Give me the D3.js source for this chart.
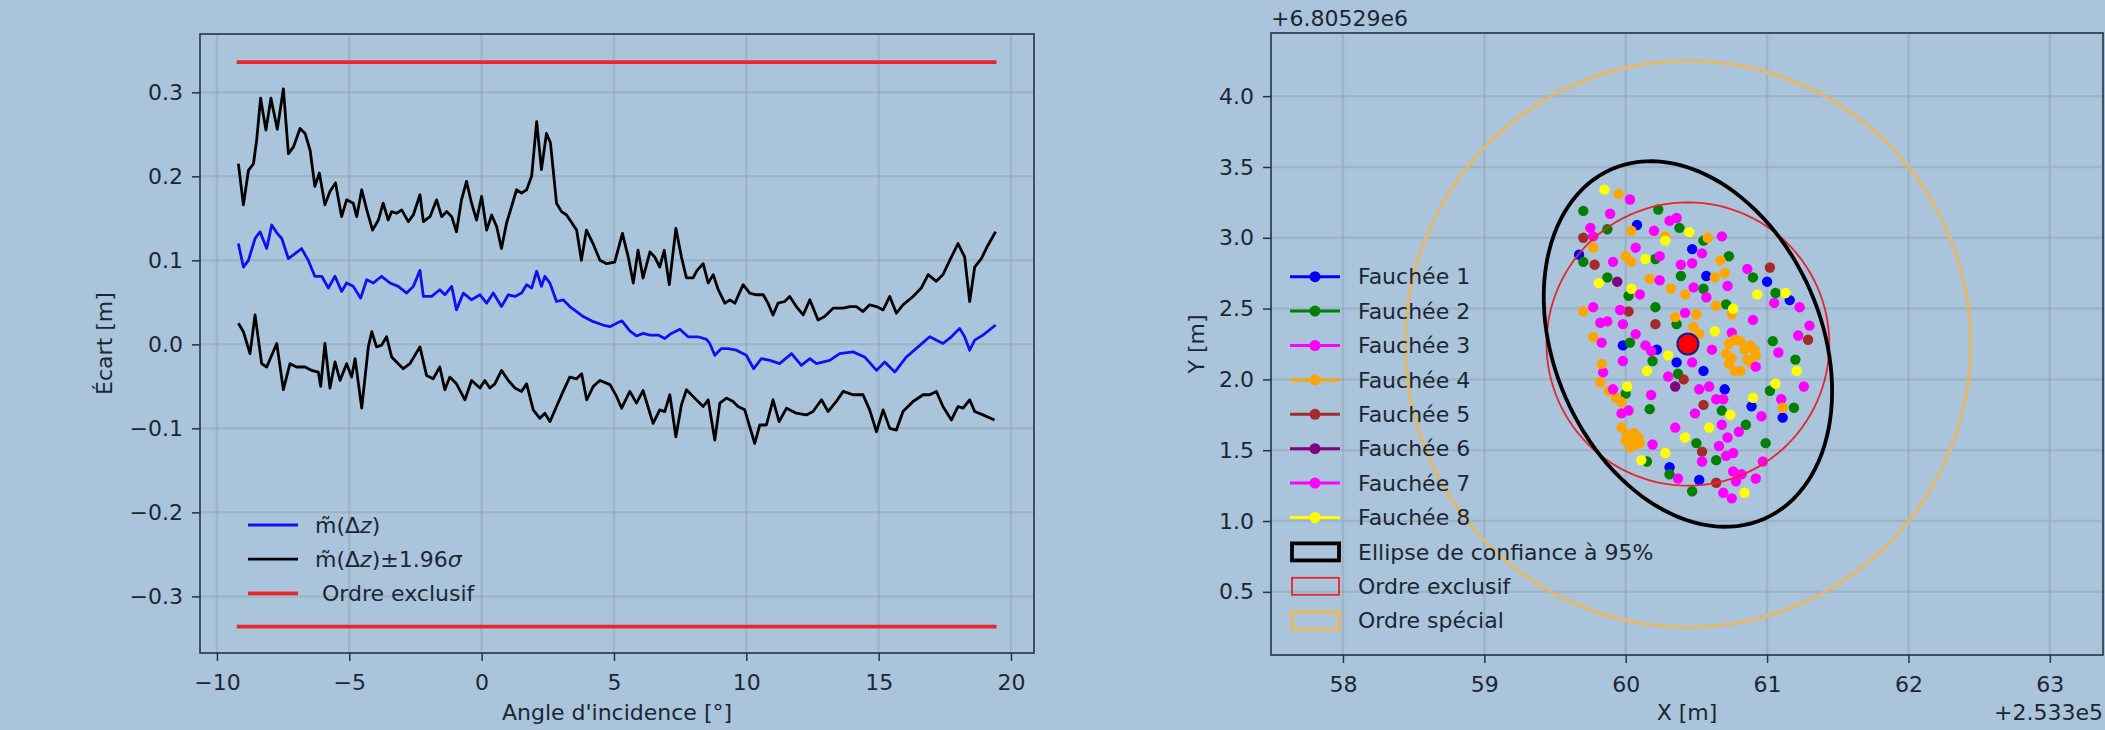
<!DOCTYPE html>
<html>
<head>
<meta charset="utf-8">
<script src="https://cdn.jsdelivr.net/npm/d3@7"></script>
<style>
  body { margin: 0; background: #aac4db; }
  svg { display: block; }
</style>
</head>
<body>
<svg id="chart"></svg>
<script>
// ---- données : écart en fonction de l'angle d'incidence ----
const meanPts = [[-9.19,0.120],[-9.0,0.092],[-8.81,0.100],[-8.56,0.126],[-8.37,0.134],[-8.12,0.114],[-7.93,0.142],[-7.72,0.132],[-7.55,0.126],[-7.3,0.102],[-7.05,0.108],[-6.8,0.114],[-6.55,0.100],[-6.3,0.081],[-6.04,0.081],[-5.79,0.067],[-5.54,0.081],[-5.29,0.063],[-5.1,0.073],[-4.85,0.069],[-4.57,0.055],[-4.34,0.077],[-4.09,0.073],[-3.78,0.081],[-3.46,0.073],[-3.15,0.069],[-2.83,0.061],[-2.58,0.069],[-2.33,0.088],[-2.2,0.057],[-1.89,0.057],[-1.58,0.065],[-1.39,0.059],[-1.13,0.069],[-0.95,0.041],[-0.69,0.061],[-0.38,0.053],[-0.06,0.059],[0.19,0.049],[0.44,0.061],[0.75,0.045],[1.01,0.059],[1.26,0.057],[1.51,0.061],[1.7,0.071],[1.89,0.067],[2.08,0.087],[2.26,0.069],[2.39,0.081],[2.58,0.073],[2.83,0.051],[3.08,0.053],[3.33,0.045],[3.59,0.039],[3.84,0.033],[4.22,0.027],[4.59,0.023],[4.85,0.021],[5.1,0.025],[5.3,0.028],[5.6,0.016],[5.85,0.010],[6.1,0.013],[6.36,0.011],[6.67,0.011],[6.92,0.007],[7.17,0.013],[7.49,0.018],[7.8,0.009],[8.18,0.009],[8.5,0.006],[8.62,0.001],[8.81,-0.013],[9.06,-0.005],[9.31,-0.005],[9.63,-0.007],[10.0,-0.013],[10.28,-0.029],[10.57,-0.017],[10.89,-0.019],[11.26,-0.023],[11.71,-0.011],[12.08,-0.025],[12.4,-0.017],[12.65,-0.023],[13.15,-0.019],[13.53,-0.011],[14.03,-0.009],[14.47,-0.015],[14.92,-0.031],[15.23,-0.021],[15.61,-0.033],[16.05,-0.015],[16.49,-0.003],[16.93,0.009],[17.43,0.001],[17.75,0.009],[18.06,0.019],[18.25,0.009],[18.44,-0.007],[18.63,0.005],[18.94,0.011],[19.42,0.023]];

const upperPts = [[-9.19,0.215],[-9.0,0.166],[-8.81,0.207],[-8.62,0.215],[-8.5,0.243],[-8.35,0.293],[-8.15,0.255],[-7.96,0.293],[-7.72,0.256],[-7.49,0.304],[-7.3,0.227],[-7.11,0.235],[-6.86,0.257],[-6.67,0.251],[-6.48,0.231],[-6.3,0.188],[-6.13,0.204],[-5.92,0.166],[-5.73,0.182],[-5.52,0.192],[-5.29,0.152],[-5.1,0.172],[-4.85,0.168],[-4.72,0.152],[-4.53,0.184],[-4.34,0.160],[-4.12,0.136],[-3.9,0.148],[-3.72,0.168],[-3.53,0.148],[-3.4,0.158],[-3.21,0.156],[-3.02,0.160],[-2.77,0.146],[-2.58,0.154],[-2.33,0.178],[-2.2,0.146],[-1.95,0.152],[-1.7,0.172],[-1.51,0.152],[-1.32,0.158],[-1.13,0.152],[-0.95,0.134],[-0.76,0.172],[-0.57,0.194],[-0.38,0.168],[-0.19,0.148],[0.0,0.176],[0.19,0.136],[0.38,0.154],[0.57,0.140],[0.75,0.114],[0.94,0.144],[1.13,0.164],[1.32,0.184],[1.51,0.180],[1.7,0.184],[1.89,0.200],[2.08,0.265],[2.26,0.208],[2.45,0.251],[2.6,0.240],[2.83,0.168],[3.02,0.158],[3.21,0.154],[3.59,0.136],[3.77,0.100],[3.96,0.136],[4.21,0.120],[4.47,0.100],[4.72,0.096],[5.03,0.098],[5.32,0.132],[5.54,0.104],[5.73,0.073],[5.91,0.112],[6.1,0.079],[6.36,0.110],[6.54,0.104],[6.73,0.092],[6.9,0.112],[7.09,0.071],[7.34,0.138],[7.55,0.104],[7.74,0.079],[7.99,0.079],[8.14,0.088],[8.37,0.096],[8.56,0.073],[8.75,0.083],[8.94,0.065],[9.19,0.049],[9.38,0.053],[9.57,0.049],[9.88,0.071],[10.13,0.061],[10.38,0.059],[10.64,0.059],[10.82,0.049],[11.01,0.035],[11.2,0.049],[11.45,0.051],[11.64,0.057],[11.89,0.045],[12.15,0.035],[12.4,0.053],[12.71,0.029],[12.96,0.033],[13.28,0.043],[13.66,0.043],[13.91,0.045],[14.16,0.045],[14.41,0.039],[14.66,0.047],[14.92,0.045],[15.17,0.041],[15.42,0.057],[15.67,0.037],[15.92,0.047],[16.3,0.057],[16.61,0.067],[16.87,0.083],[17.18,0.075],[17.43,0.083],[17.75,0.104],[18.0,0.120],[18.25,0.104],[18.44,0.051],[18.63,0.092],[18.88,0.102],[19.13,0.118],[19.42,0.134]];

const lowerPts = [[-9.19,0.025],[-9.0,0.015],[-8.75,-0.011],[-8.56,0.035],[-8.31,-0.023],[-8.12,-0.027],[-7.74,0.001],[-7.49,-0.054],[-7.24,-0.023],[-6.99,-0.027],[-6.67,-0.027],[-6.42,-0.031],[-6.17,-0.033],[-6.08,-0.050],[-5.92,0.001],[-5.73,-0.052],[-5.54,-0.021],[-5.35,-0.043],[-5.1,-0.023],[-4.91,-0.039],[-4.78,-0.017],[-4.53,-0.076],[-4.28,-0.003],[-4.15,0.015],[-3.97,-0.003],[-3.78,-0.001],[-3.59,0.009],[-3.4,-0.015],[-3.15,-0.023],[-2.96,-0.029],[-2.71,-0.023],[-2.33,-0.003],[-2.08,-0.037],[-1.83,-0.041],[-1.58,-0.027],[-1.39,-0.054],[-1.2,-0.039],[-0.95,-0.047],[-0.63,-0.066],[-0.38,-0.043],[-0.06,-0.052],[0.12,-0.043],[0.31,-0.052],[0.5,-0.047],[0.75,-0.031],[1.01,-0.043],[1.26,-0.052],[1.51,-0.056],[1.7,-0.047],[1.95,-0.078],[2.2,-0.088],[2.39,-0.082],[2.58,-0.092],[2.83,-0.074],[3.08,-0.056],[3.33,-0.039],[3.59,-0.041],[3.78,-0.035],[3.97,-0.066],[4.22,-0.050],[4.47,-0.043],[4.85,-0.048],[5.1,-0.062],[5.29,-0.076],[5.6,-0.056],[5.85,-0.070],[6.1,-0.055],[6.36,-0.082],[6.48,-0.094],[6.73,-0.078],[6.92,-0.080],[7.11,-0.060],[7.34,-0.110],[7.55,-0.072],[7.74,-0.054],[8.05,-0.064],[8.37,-0.074],[8.56,-0.066],[8.81,-0.114],[9.0,-0.070],[9.25,-0.064],[9.5,-0.068],[9.69,-0.074],[9.94,-0.078],[10.32,-0.118],[10.51,-0.096],[10.76,-0.096],[11.01,-0.066],[11.24,-0.092],[11.52,-0.076],[11.89,-0.082],[12.27,-0.084],[12.52,-0.080],[12.84,-0.066],[13.09,-0.080],[13.4,-0.068],[13.66,-0.056],[14.03,-0.060],[14.41,-0.060],[14.66,-0.078],[14.92,-0.104],[15.17,-0.078],[15.42,-0.100],[15.67,-0.102],[15.92,-0.080],[16.3,-0.068],[16.68,-0.060],[16.93,-0.060],[17.18,-0.056],[17.43,-0.074],[17.75,-0.090],[18.0,-0.074],[18.19,-0.076],[18.44,-0.066],[18.63,-0.080],[18.94,-0.084],[19.38,-0.090]];

const ordreExclusifX = [-9.25, 19.45];
const ordreExclusifEcart = 0.336;
const xTicksLeft = [-10, -5, 0, 5, 10, 15, 20];
const yTicksLeft = [-0.3, -0.2, -0.1, 0.0, 0.1, 0.2, 0.3];

// ---- données : positions par fauchée (X, Y relatifs aux offsets) ----
const fauchee1 = [[60.08,3.09],[59.67,2.88],[60.47,2.92],[60.57,2.73],[61.00,2.69],[61.16,2.56],[59.98,2.24],[60.22,2.21],[60.36,2.12],[60.55,2.06],[60.70,1.93],[60.89,1.81],[61.11,1.73],[60.31,1.38],[60.52,1.29]];
const fauchee2 = [[59.70,3.19],[60.23,3.20],[59.87,3.06],[60.38,3.07],[60.55,2.98],[59.70,2.83],[60.21,2.85],[60.73,2.87],[60.90,2.72],[60.39,2.73],[59.87,2.72],[60.55,2.64],[60.02,2.59],[61.06,2.61],[60.71,2.53],[60.21,2.51],[60.36,2.39],[60.03,2.26],[61.04,2.27],[60.19,2.13],[61.20,2.14],[60.37,2.04],[60.00,1.90],[61.02,1.92],[61.19,1.80],[60.68,1.78],[60.17,1.79],[60.85,1.68],[60.50,1.55],[60.99,1.55],[60.15,1.42],[60.64,1.43],[60.31,1.33],[60.47,1.21]];
const fauchee3 = [[60.03,3.27],[60.31,3.12],[59.75,3.07],[59.77,3.01],[60.07,2.93],[59.91,2.83],[60.39,2.81],[60.86,2.78],[60.48,2.65],[60.10,2.60],[61.05,2.54],[59.77,2.51],[60.42,2.47],[59.82,2.40],[59.98,2.39],[60.75,2.33],[61.22,2.31],[60.14,2.24],[60.61,2.21],[59.98,2.13],[59.84,2.05],[60.30,2.02],[60.59,1.95],[61.26,1.95],[60.64,1.86],[61.10,1.86],[60.02,1.78],[60.96,1.74],[60.68,1.68],[60.72,1.59],[60.66,1.53],[60.71,1.46],[60.97,1.42],[60.76,1.35],[60.78,1.28],[60.69,1.20]];
const fauchee4 = [[59.95,3.31],[60.04,3.05],[60.28,3.01],[60.58,3.00],[59.77,2.93],[60.00,2.87],[60.04,2.83],[60.67,2.84],[60.70,2.75],[60.63,2.72],[60.17,2.71],[60.32,2.64],[60.42,2.60],[60.64,2.52],[60.75,2.46],[59.70,2.48],[60.50,2.46],[60.35,2.44],[60.48,2.37],[60.52,2.32],[59.77,2.30],[60.73,2.25],[60.81,2.27],[60.88,2.24],[60.92,2.17],[60.89,2.11],[60.81,2.06],[60.73,2.11],[60.71,2.18],[60.84,2.21],[60.77,2.06],[60.77,2.28],[60.86,2.14],[60.75,2.15],[60.91,2.21],[59.83,2.11],[59.82,1.98],[59.88,1.92],[59.93,1.87],[59.97,1.84],[61.11,1.80],[59.97,1.66],[60.01,1.61],[60.04,1.58],[60.07,1.54],[60.03,1.52],[60.09,1.59],[60.10,1.55],[60.06,1.62],[60.00,1.57]];
const fauchee5 = [[59.70,3.00],[59.78,2.81],[61.02,2.79],[60.02,2.48],[60.21,2.39],[61.29,2.28],[60.41,2.00],[60.55,1.82],[60.54,1.49],[60.64,1.27]];
const fauchee6 = [[59.94,2.69],[60.35,1.95]];
const fauchee7 = [[59.89,3.17],[60.36,3.14],[60.20,3.05],[60.68,3.01],[60.54,2.89],[60.24,2.87],[60.47,2.82],[60.24,2.70],[60.72,2.66],[60.57,2.58],[61.23,2.51],[59.96,2.49],[60.90,2.42],[59.87,2.41],[60.07,2.32],[61.30,2.38],[59.83,2.26],[60.18,2.20],[61.08,2.19],[60.47,2.12],[60.92,2.09],[60.52,1.93],[59.91,1.93],[60.18,1.89],[60.69,1.86],[59.97,1.76],[60.49,1.76],[60.35,1.66],[60.80,1.63],[60.19,1.54],[60.76,1.48],[60.54,1.42],[60.37,1.30],[60.82,1.33],[60.92,1.30],[60.75,1.16]];
const fauchee8 = [[59.85,3.34],[60.45,3.04],[60.28,2.98],[60.14,2.85],[59.81,2.68],[60.04,2.64],[61.13,2.61],[60.93,2.60],[60.76,2.50],[60.63,2.34],[60.30,2.17],[60.15,2.06],[61.21,2.06],[60.01,1.95],[61.06,1.97],[60.90,1.87],[60.74,1.75],[60.59,1.66],[60.42,1.59],[60.28,1.48],[60.11,1.43],[60.84,1.20]];

const faucheeNames = ['Fauchée 1', 'Fauchée 2', 'Fauchée 3', 'Fauchée 4', 'Fauchée 5', 'Fauchée 6', 'Fauchée 7', 'Fauchée 8'];
const centre = [60.44, 2.25];
const ellipse95 = { a: 1.347, b: 0.944, angleDeg: -66.3 };  // demi-axes en m
const rayonExclusif = 1.0;
const rayonSpecial = 2.0;
const xTicksRight = [58, 59, 60, 61, 62, 63];
const yTicksRight = [0.5, 1.0, 1.5, 2.0, 2.5, 3.0, 3.5, 4.0];
const offsetX = '+2.533e5';
const offsetY = '+6.80529e6';

// ---- mise en page ----
const W = 2105, H = 730;
const FONT = '"DejaVu Sans", sans-serif';
const ink = '#1c2733';
const spine = '#263442';
const gridColor = 'rgba(140,158,172,0.38)';
const faucheeColors = ['blue', 'green', 'magenta', 'orange', 'brown', 'purple', 'magenta', 'yellow'];

const svg = d3.select('#chart').attr('width', W).attr('height', H)
  .style('font-family', FONT);

svg.append('rect').attr('width', W).attr('height', H).attr('fill', '#aac4db');

function styleAxis(g) {
  g.select('.domain').remove();
  g.selectAll('.tick line').attr('stroke', spine).attr('stroke-width', 1.5);
  g.selectAll('.tick text').attr('fill', ink).style('font-size', '22px').style('font-family', FONT);
}

function drawFrame(box) {
  svg.append('rect')
    .attr('x', box.left).attr('y', box.top)
    .attr('width', box.right - box.left).attr('height', box.bottom - box.top)
    .attr('fill', 'none').attr('stroke', spine).attr('stroke-width', 1.6);
}

// ================= graphique de gauche =================
const L = { left: 200, right: 1034, top: 34, bottom: 653 };
const xL = d3.scaleLinear().domain([-10.64, 20.87]).range([L.left, L.right]);
const yL = d3.scaleLinear().domain([-0.3674, 0.3694]).range([L.bottom, L.top]);

const gridL = svg.append('g');
gridL.selectAll('.gx').data(xTicksLeft).enter().append('line')
  .attr('x1', d => xL(d)).attr('x2', d => xL(d))
  .attr('y1', L.top).attr('y2', L.bottom)
  .attr('stroke', gridColor).attr('stroke-width', 2.5);
gridL.selectAll('.gy').data(yTicksLeft).enter().append('line')
  .attr('y1', d => yL(d)).attr('y2', d => yL(d))
  .attr('x1', L.left).attr('x2', L.right)
  .attr('stroke', gridColor).attr('stroke-width', 2.5);

const lineL = d3.line().x(d => xL(d[0])).y(d => yL(d[1]));

[ordreExclusifEcart, -ordreExclusifEcart].forEach(v => {
  svg.append('path')
    .datum(ordreExclusifX.map(x => [x, v]))
    .attr('d', lineL)
    .attr('fill', 'none').attr('stroke', '#e8262c').attr('stroke-width', 3.8);
});

svg.append('path').datum(upperPts).attr('d', lineL)
  .attr('fill', 'none').attr('stroke', 'black').attr('stroke-width', 2.8).attr('stroke-linejoin', 'round');
svg.append('path').datum(lowerPts).attr('d', lineL)
  .attr('fill', 'none').attr('stroke', 'black').attr('stroke-width', 2.8).attr('stroke-linejoin', 'round');
svg.append('path').datum(meanPts).attr('d', lineL)
  .attr('fill', 'none').attr('stroke', '#1010f0').attr('stroke-width', 2.8).attr('stroke-linejoin', 'round');

drawFrame(L);

svg.append('g').attr('transform', `translate(0,${L.bottom})`)
  .call(d3.axisBottom(xL).tickValues(xTicksLeft).tickSize(8).tickPadding(13).tickFormat(d3.format('d')))
  .call(styleAxis);
svg.append('g').attr('transform', `translate(${L.left},0)`)
  .call(d3.axisLeft(yL).tickValues(yTicksLeft).tickSize(8).tickPadding(9).tickFormat(d3.format('.1f')))
  .call(styleAxis);

svg.append('text').attr('x', (L.left + L.right) / 2).attr('y', 720)
  .attr('text-anchor', 'middle').attr('fill', ink).style('font-size', '22px')
  .text("Angle d'incidence [°]");
svg.append('text').attr('transform', `translate(112,${(L.top + L.bottom) / 2}) rotate(-90)`)
  .attr('text-anchor', 'middle').attr('fill', ink).style('font-size', '22px')
  .text('Écart [m]');

// légende gauche
const legL = svg.append('g');
const legLItems = [
  { color: '#1010f0', w: 2.8, parts: [['m\u0303(Δ', 'normal'], ['z', 'italic'], [')', 'normal']] },
  { color: 'black', w: 2.8, parts: [['m\u0303(Δ', 'normal'], ['z', 'italic'], [')±1.96', 'normal'], ['σ', 'italic']] },
  { color: '#e8262c', w: 3.8, parts: [['\u00a0Ordre exclusif', 'normal']] }
];
legLItems.forEach((it, i) => {
  const y = 525 + i * 34.2;
  legL.append('line').attr('x1', 248).attr('x2', 298).attr('y1', y).attr('y2', y)
    .attr('stroke', it.color).attr('stroke-width', it.w);
  const t = legL.append('text').attr('x', 315).attr('y', y).attr('dy', '0.35em')
    .attr('fill', ink).style('font-size', '22px');
  it.parts.forEach(p => t.append('tspan').style('font-style', p[1]).text(p[0]));
});

// ================= graphique de droite =================
const R = { left: 1271, right: 2103, top: 33, bottom: 655 };
const xR = d3.scaleLinear().domain([57.491, 63.376]).range([R.left, R.right]);
const yR = d3.scaleLinear().domain([0.054, 4.446]).range([R.bottom, R.top]);

const gridR = svg.append('g');
gridR.selectAll('.gx').data(xTicksRight).enter().append('line')
  .attr('x1', d => xR(d)).attr('x2', d => xR(d))
  .attr('y1', R.top).attr('y2', R.bottom)
  .attr('stroke', gridColor).attr('stroke-width', 2.5);
gridR.selectAll('.gy').data(yTicksRight).enter().append('line')
  .attr('y1', d => yR(d)).attr('y2', d => yR(d))
  .attr('x1', R.left).attr('x2', R.right)
  .attr('stroke', gridColor).attr('stroke-width', 2.5);

const fauchees = [fauchee1, fauchee2, fauchee3, fauchee4, fauchee5, fauchee6, fauchee7, fauchee8];
fauchees.forEach((pts, i) => {
  svg.append('g').selectAll('circle').data(pts).enter().append('circle')
    .attr('cx', d => xR(d[0])).attr('cy', d => yR(d[1]))
    .attr('r', 5.2).attr('fill', faucheeColors[i]);
});

// contour d'ellipse dans le repère des données
function ellipsePath(cx, cy, a, b, angDeg) {
  const th = angDeg * Math.PI / 180;
  const pts = d3.range(0, 361, 3).map(t => {
    const u = t * Math.PI / 180;
    return [cx + a * Math.cos(u) * Math.cos(th) - b * Math.sin(u) * Math.sin(th),
            cy + a * Math.cos(u) * Math.sin(th) + b * Math.sin(u) * Math.cos(th)];
  });
  return d3.line().x(d => xR(d[0])).y(d => yR(d[1])).curve(d3.curveLinearClosed)(pts);
}

svg.append('path').attr('d', ellipsePath(centre[0], centre[1], rayonSpecial, rayonSpecial, 0))
  .attr('fill', 'none').attr('stroke', '#e1b86f').attr('stroke-width', 3.2);
svg.append('path').attr('d', ellipsePath(centre[0], centre[1], rayonExclusif, rayonExclusif, 0))
  .attr('fill', 'none').attr('stroke', '#e3262c').attr('stroke-width', 1.8);
svg.append('path').attr('d', ellipsePath(centre[0], centre[1], ellipse95.a, ellipse95.b, ellipse95.angleDeg))
  .attr('fill', 'none').attr('stroke', 'black').attr('stroke-width', 3.8);

svg.append('circle').attr('cx', xR(centre[0])).attr('cy', yR(centre[1]))
  .attr('r', 10.5).attr('fill', 'red').attr('stroke', '#1b1b8a').attr('stroke-width', 2);

drawFrame(R);

svg.append('g').attr('transform', `translate(0,${R.bottom})`)
  .call(d3.axisBottom(xR).tickValues(xTicksRight).tickSize(8).tickPadding(13).tickFormat(d3.format('d')))
  .call(styleAxis);
svg.append('g').attr('transform', `translate(${R.left},0)`)
  .call(d3.axisLeft(yR).tickValues(yTicksRight).tickSize(8).tickPadding(9).tickFormat(d3.format('.1f')))
  .call(styleAxis);

svg.append('text').attr('x', (R.left + R.right) / 2).attr('y', 720)
  .attr('text-anchor', 'middle').attr('fill', ink).style('font-size', '22px').text('X [m]');
svg.append('text').attr('transform', `translate(1204,${(R.top + R.bottom) / 2}) rotate(-90)`)
  .attr('text-anchor', 'middle').attr('fill', ink).style('font-size', '22px').text('Y [m]');
svg.append('text').attr('x', R.right).attr('y', 720)
  .attr('text-anchor', 'end').attr('fill', ink).style('font-size', '22px').text(offsetX);
svg.append('text').attr('x', R.left).attr('y', 26)
  .attr('text-anchor', 'start').attr('fill', ink).style('font-size', '22px').text(offsetY);

// légende droite
const legR = svg.append('g');
const legY = i => 276.7 + i * 34.4;
faucheeNames.forEach((name, i) => {
  const y = legY(i);
  legR.append('line').attr('x1', 1290).attr('x2', 1340).attr('y1', y).attr('y2', y)
    .attr('stroke', faucheeColors[i]).attr('stroke-width', 3);
  legR.append('circle').attr('cx', 1315).attr('cy', y).attr('r', 5.5).attr('fill', faucheeColors[i]);
  legR.append('text').attr('x', 1358).attr('y', y).attr('dy', '0.35em')
    .attr('fill', ink).style('font-size', '22px').text(name);
});
const patchItems = [
  { name: 'Ellipse de confiance à 95%', stroke: 'black', w: 3.8 },
  { name: 'Ordre exclusif', stroke: '#e3262c', w: 1.8 },
  { name: 'Ordre spécial', stroke: '#e1b86f', w: 3.8 }
];
patchItems.forEach((p, j) => {
  const y = legY(8 + j);
  legR.append('rect').attr('x', 1292).attr('y', y - 8.5).attr('width', 47).attr('height', 17)
    .attr('fill', 'none').attr('stroke', p.stroke).attr('stroke-width', p.w);
  legR.append('text').attr('x', 1358).attr('y', y).attr('dy', '0.35em')
    .attr('fill', ink).style('font-size', '22px').text(p.name);
});
</script>
</body>
</html>
